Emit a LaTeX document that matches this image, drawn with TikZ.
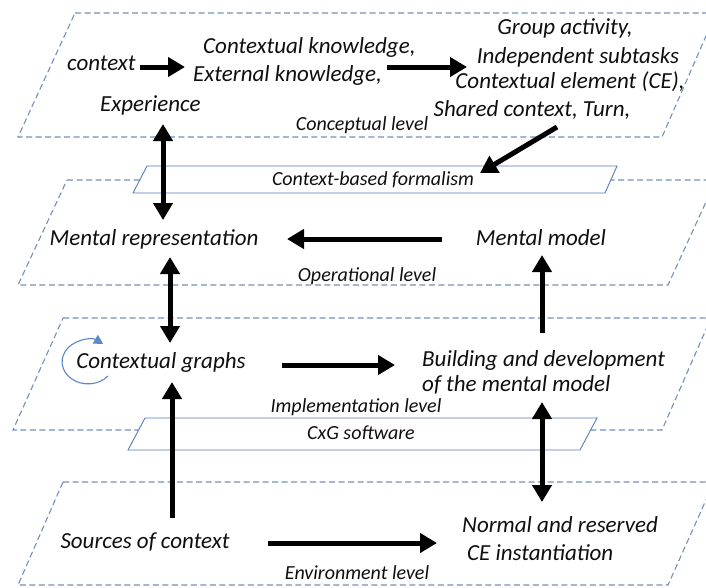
\documentclass[tikz,border=0pt]{standalone}
\usepackage{fontspec}
\setmainfont{Carlito}
\usetikzlibrary{arrows.meta,calc}
\definecolor{layerc}{RGB}{115,145,185}
\definecolor{barc}{RGB}{85,125,185}
\definecolor{loopc}{RGB}{90,135,200}
\definecolor{inkc}{RGB}{15,15,15}
\tikzset{
  txt/.style={font=\fontsize{23}{27}\selectfont\itshape, inner sep=0pt, text=inkc},
  lvl/.style={font=\fontsize{20}{24}\selectfont\itshape, inner sep=0pt, text=inkc},
  layer/.style={draw=layerc, dash pattern=on 6pt off 3.5pt, line width=1.1pt},
  bar/.style={draw=barc, fill=white, line width=0.9pt},
  arr/.style={draw=black, line width=5pt, -{Triangle[length=17pt,width=19pt]}},
  darr/.style={draw=black, line width=5pt, {Triangle[length=17pt,width=19pt]}-{Triangle[length=17pt,width=19pt]}},
  loop/.style={draw=loopc, line width=1.1pt, -{Triangle[length=9pt,width=10pt]}}
}
\begin{document}
\begin{tikzpicture}[x=1pt,y=-1pt]
\useasboundingbox (0,0) rectangle (706,587);
\clip (0,0) rectangle (706,587);
% layers
\draw[layer] (75,13) -- (716,13) -- (662,137) -- (18,137) -- cycle;
\draw[layer] (67,180) -- (716,180) -- (668,285) -- (18,285) -- cycle;
\draw[layer] (63,318) -- (711,318) -- (662,430) -- (13,430) -- cycle;
\draw[layer] (63,482) -- (714,482) -- (668,585) -- (18,585) -- cycle;
% bars
\draw[bar] (147,166) -- (617,166) -- (605,193) -- (133,193) -- cycle;
\draw[bar] (145,418) -- (597,418) -- (580,450) -- (128,450) -- cycle;
% texts
\node[txt,anchor=west] (ctx) at (67,63) {context};
\node[txt,anchor=west] (ck1) at (203,47) {Contextual knowledge,};
\node[txt,anchor=west] (ck2) at (193,75) {External knowledge,};
\node[txt,anchor=west] (exp) at (100,105) {Experience};
\node[txt] (ga) at (565,28) {Group activity,};
\node[txt] (ist) at (578,57) {Independent subtasks};
\node[txt] (ce) at (570,82) {Contextual element (CE),};
\node[txt] (sc) at (532,110) {Shared context, Turn,};
\node[lvl] (cl) at (362,125) {Conceptual level};
\node[lvl] (cbf) at (373,180) {Context-based formalism};
\node[txt] (mr) at (154,239) {Mental representation};
\node[txt] (mm) at (541,238) {Mental model};
\node[lvl] (ol) at (367,276) {Operational level};
\node[txt] (cg) at (161,362) {Contextual graphs};
\node[txt,anchor=west] (bd1) at (422,360) {Building and development};
\node[txt,anchor=west] (bd2) at (422,385) {of the mental model};
\node[lvl] (il) at (356,407) {Implementation level};
\node[lvl] (cxg) at (361,433) {CxG software};
\node[txt] (soc) at (145,542) {Sources of context};
\node[txt,anchor=west] (nr1) at (462,525) {Normal and reserved};
\node[txt,anchor=west] (nr2) at (467,553) {CE instantiation};
\node[lvl] (el) at (357,573) {Environment level};
% arrows
\draw[arr] ($(ctx.west)+(73,4)$) -- ($(ck2.west)+(-8,-8)$);
\draw[arr] ($(ck2.west)+(194,-8)$) -- ($(ist.center)+(-111,10)$);
\draw[arr] ($(sc.center)+(25,17)$) -- ($(cbf.center)+(107,-7)$);
\draw[darr] ($(exp.west)+(63,19)$) -- ($(mr.center)+(9,-19)$);
\draw[arr] ($(mm.center)+(-99,1)$) -- ($(mr.center)+(133,0)$);
\draw[darr] ($(mr.center)+(16,18)$) -- ($(cg.center)+(9,-19)$);
\draw[arr] ($(bd1.west)+(120,-27)$) -- ($(mm.center)+(1,17)$);
\draw[arr] ($(cg.center)+(121,3)$) -- ($(bd1.west)+(-27,5)$);
\draw[darr] ($(bd2.west)+(120,17)$) -- ($(nr1.west)+(80,-23)$);
\draw[arr] ($(soc.center)+(27,-24)$) -- ($(cg.center)+(11,20)$);
\draw[arr] ($(soc.center)+(123,1)$) -- ($(nr1.west)+(-25,18)$);
% loop
\draw[loop] ($(cg.center)+(-53,14)$) arc[start angle=-40, end angle=-305, x radius=26pt, y radius=22pt];
\end{tikzpicture}
\end{document}
